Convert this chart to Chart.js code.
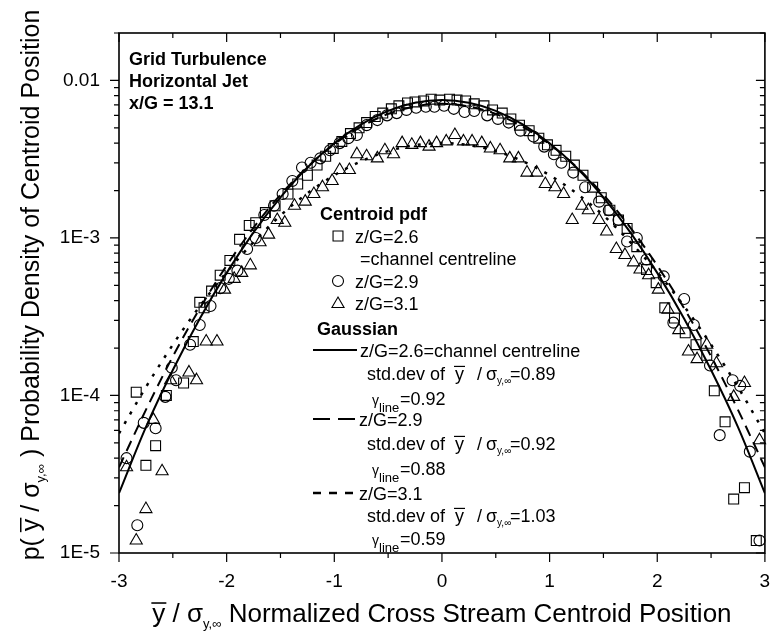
<!DOCTYPE html>
<html>
<head>
<meta charset="utf-8">
<script src="https://cdn.jsdelivr.net/npm/chart.js@4.4.1/dist/chart.umd.min.js"></script>
<style>
  html, body { margin: 0; padding: 0; background: #fff; }
  #wrap { width: 773px; height: 641px; }
</style>
</head>
<body>
<div id="wrap"><canvas id="chart" width="773" height="641"></canvas></div>
<script>
const FONT = '"Liberation Sans", Arial, Helvetica, sans-serif';

// measured centroid pdf, z/G = 2.6 (channel centreline)
const squareX = [-2.84, -2.75, -2.66, -2.56, -2.40, -2.31, -2.25, -2.21, -2.14, -2.06, -1.97, -1.88, -1.79, -1.73, -1.64, -1.55, -1.43, -1.34, -1.25, -1.16, -1.08, -1.01, -0.93, -0.85, -0.77, -0.70, -0.62, -0.55, -0.47, -0.40, -0.32, -0.25, -0.17, -0.10, -0.02, 0.07, 0.14, 0.22, 0.30, 0.39, 0.47, 0.56, 0.64, 0.72, 0.81, 0.90, 0.98, 1.06, 1.15, 1.23, 1.31, 1.40, 1.48, 1.56, 1.64, 1.72, 1.81, 1.90, 1.99, 2.07, 2.16, 2.26, 2.36, 2.46, 2.53, 2.63, 2.71, 2.81, 2.92];
const squareY = [1.05e-4, 3.6e-5, 4.8e-5, 1.0e-4, 1.2e-4, 2.2e-4, 3.9e-4, 3.6e-4, 4.6e-4, 5.8e-4, 7.2e-4, 9.8e-4, 1.2e-3, 1.25e-3, 1.45e-3, 1.6e-3, 1.9e-3, 2.2e-3, 2.5e-3, 2.9e-3, 3.3e-3, 3.7e-3, 4.1e-3, 4.6e-3, 5.0e-3, 5.4e-3, 5.9e-3, 6.2e-3, 6.6e-3, 6.9e-3, 7.2e-3, 7.3e-3, 7.4e-3, 7.6e-3, 7.5e-3, 7.6e-3, 7.5e-3, 7.4e-3, 7.1e-3, 6.9e-3, 6.5e-3, 6.2e-3, 5.7e-3, 5.2e-3, 4.8e-3, 4.3e-3, 3.9e-3, 3.6e-3, 3.3e-3, 2.9e-3, 2.5e-3, 2.1e-3, 1.8e-3, 1.5e-3, 1.3e-3, 1.15e-3, 8.8e-4, 6.3e-4, 5.2e-4, 3.6e-4, 3.1e-4, 2.5e-4, 2.1e-4, 1.8e-4, 1.07e-4, 6.8e-5, 2.2e-5, 2.6e-5, 1.2e-5];

// z/G = 2.9
const circleX = [-2.93, -2.83, -2.77, -2.66, -2.57, -2.51, -2.47, -2.34, -2.25, -2.15, -2.06, -1.98, -1.90, -1.81, -1.73, -1.65, -1.56, -1.48, -1.39, -1.30, -1.22, -1.13, -1.04, -0.95, -0.87, -0.79, -0.70, -0.60, -0.51, -0.42, -0.33, -0.24, -0.15, -0.07, 0.02, 0.11, 0.21, 0.30, 0.42, 0.52, 0.62, 0.73, 0.85, 0.95, 1.04, 1.11, 1.22, 1.33, 1.46, 1.55, 1.64, 1.72, 1.81, 1.90, 2.06, 2.15, 2.25, 2.34, 2.49, 2.58, 2.70, 2.77, 2.86, 2.95];
const circleY = [4.0e-5, 1.5e-5, 6.7e-5, 6.2e-5, 9.8e-5, 1.5e-4, 1.25e-4, 2.1e-4, 2.8e-4, 3.7e-4, 4.8e-4, 5.5e-4, 6.2e-4, 8.5e-4, 1.0e-3, 1.4e-3, 1.6e-3, 1.9e-3, 2.3e-3, 2.8e-3, 3.0e-3, 3.2e-3, 3.6e-3, 4.0e-3, 4.3e-3, 4.5e-3, 5.2e-3, 5.6e-3, 6.0e-3, 6.2e-3, 6.5e-3, 6.7e-3, 6.8e-3, 6.8e-3, 6.9e-3, 6.6e-3, 6.3e-3, 6.4e-3, 6.0e-3, 5.7e-3, 5.4e-3, 4.8e-3, 4.4e-3, 3.8e-3, 3.4e-3, 3.0e-3, 2.6e-3, 2.1e-3, 1.7e-3, 1.5e-3, 1.3e-3, 9.5e-4, 1.0e-3, 7.3e-4, 5.7e-4, 2.9e-4, 4.1e-4, 2.8e-4, 1.55e-4, 5.6e-5, 1.25e-4, 1.15e-4, 4.4e-5, 1.2e-5];

// z/G = 3.1
const triangleX = [-2.93, -2.84, -2.75, -2.68, -2.60, -2.52, -2.35, -2.28, -2.19, -2.09, -2.02, -1.93, -1.86, -1.78, -1.69, -1.61, -1.53, -1.46, -1.37, -1.27, -1.19, -1.11, -1.02, -0.95, -0.86, -0.79, -0.70, -0.60, -0.53, -0.45, -0.37, -0.28, -0.20, -0.12, -0.05, 0.04, 0.12, 0.20, 0.28, 0.37, 0.45, 0.54, 0.63, 0.71, 0.79, 0.88, 0.96, 1.05, 1.13, 1.21, 1.30, 1.36, 1.46, 1.53, 1.62, 1.70, 1.78, 1.84, 1.92, 2.01, 2.10, 2.20, 2.29, 2.37, 2.46, 2.55, 2.71, 2.81, 2.95];
const triangleY = [3.5e-5, 1.2e-5, 1.9e-5, 7.0e-5, 3.3e-5, 1.25e-4, 1.4e-4, 1.25e-4, 2.2e-4, 2.2e-4, 4.7e-4, 5.5e-4, 6.0e-4, 6.7e-4, 9.4e-4, 1.05e-3, 1.3e-3, 1.25e-3, 1.6e-3, 1.7e-3, 1.9e-3, 2.1e-3, 2.3e-3, 2.7e-3, 2.7e-3, 3.4e-3, 3.3e-3, 3.2e-3, 3.6e-3, 3.4e-3, 4.0e-3, 3.9e-3, 4.0e-3, 3.8e-3, 4.0e-3, 4.1e-3, 4.5e-3, 4.1e-3, 4.1e-3, 4.0e-3, 3.7e-3, 3.6e-3, 3.2e-3, 3.2e-3, 2.6e-3, 2.6e-3, 2.2e-3, 2.1e-3, 1.9e-3, 1.3e-3, 1.6e-3, 1.5e-3, 1.3e-3, 1.1e-3, 8.5e-4, 7.8e-4, 7.0e-4, 6.3e-4, 5.8e-4, 4.7e-4, 3.5e-4, 2.6e-4, 1.9e-4, 1.7e-4, 2.1e-4, 1.6e-4, 9.8e-5, 1.2e-4, 5.2e-5];

// fitted gaussians, sampled every 0.25
const curveX = [-3, -2.75, -2.5, -2.25, -2, -1.75, -1.5, -1.25, -1, -0.75, -0.5, -0.25, 0, 0.25, 0.5, 0.75, 1, 1.25, 1.5, 1.75, 2, 2.25, 2.5, 2.75, 3];
const gaussSolidY = [2.4e-5, 6.3e-5, 1.45e-4, 3.07e-4, 6.0e-4, 1.085e-3, 1.81e-3, 2.80e-3, 3.99e-3, 5.26e-3, 6.41e-3, 7.21e-3, 7.5e-3, 7.21e-3, 6.41e-3, 5.26e-3, 3.99e-3, 2.80e-3, 1.81e-3, 1.085e-3, 6.0e-4, 3.07e-4, 1.45e-4, 6.3e-5, 2.4e-5];
const gaussDashY = [3.5e-5, 8.1e-5, 1.77e-4, 3.57e-4, 6.68e-4, 1.163e-3, 1.88e-3, 2.82e-3, 3.93e-3, 5.09e-3, 6.13e-3, 6.84e-3, 7.1e-3, 6.84e-3, 6.13e-3, 5.09e-3, 3.93e-3, 2.82e-3, 1.88e-3, 1.163e-3, 6.68e-4, 3.57e-4, 1.77e-4, 8.1e-5, 3.5e-5];
const gaussDotY = [5.75e-5, 1.13e-4, 2.10e-4, 3.68e-4, 6.07e-4, 9.4e-4, 1.39e-3, 1.92e-3, 2.50e-3, 3.07e-3, 3.56e-3, 3.88e-3, 4.0e-3, 3.88e-3, 3.56e-3, 3.07e-3, 2.50e-3, 1.92e-3, 1.39e-3, 9.4e-4, 6.07e-4, 3.68e-4, 2.10e-4, 1.13e-4, 5.75e-5];

// axis ticks
const xTicks = [-3, -2, -1, 0, 1, 2, 3];
const yTicks = [1e-5, 1e-4, 1e-3, 1e-2];
const yTickLabels = ['1E-5', '1E-4', '1E-3', '0.01'];

const toPoints = (xs, ys) => xs.map((x, i) => ({ x, y: ys[i] }));

const markerStyle = (style, radius) => ({
  type: 'scatter',
  showLine: false,
  pointStyle: style,
  pointRadius: radius,
  pointHoverRadius: radius,
  pointBorderWidth: 1.1,
  pointBorderColor: '#000',
  pointBackgroundColor: 'rgba(0,0,0,0)',
  clip: false
});

const curveStyle = (dash, width) => ({
  type: 'line',
  borderColor: '#000',
  borderWidth: width,
  borderDash: dash,
  pointRadius: 0,
  fill: false,
  cubicInterpolationMode: 'monotone'
});

const datasets = [
  { label: 'z/G=2.6', data: toPoints(squareX, squareY), ...markerStyle('rect', 7) },
  { label: 'z/G=2.9', data: toPoints(circleX, circleY), ...markerStyle('circle', 5.5) },
  { label: 'z/G=3.1', data: toPoints(triangleX, triangleY), ...markerStyle('triangle', 7) },
  { label: 'Gaussian 2.6', data: toPoints(curveX, gaussSolidY), ...curveStyle([], 2) },
  { label: 'Gaussian 2.9', data: toPoints(curveX, gaussDashY), ...curveStyle([11, 7], 2) },
  { label: 'Gaussian 3.1', data: toPoints(curveX, gaussDotY), ...curveStyle([3, 8], 2.5) }
];

// draws a run of text pieces (sub/superscripts, overlined letters) from x on a baseline
function drawRich(ctx, x, base, parts, measureOnly) {
  let cx = x;
  parts.forEach(p => {
    if (p.at !== undefined) cx = p.at;
    ctx.font = (p.bold ? 'bold ' : '') + p.size + 'px ' + FONT;
    const w = ctx.measureText(p.t).width;
    if (!measureOnly) {
      const y = base + (p.dy || 0);
      ctx.fillText(p.t, cx, y);
      if (p.bar) {
        ctx.fillRect(cx - 1, y - p.size * 0.76, w + 2, Math.max(1.2, p.size * 0.06));
      }
    }
    cx += w;
  });
  return cx - x;
}

function text(ctx, str, x, base, size, bold) {
  ctx.font = (bold ? 'bold ' : '') + size + 'px ' + FONT;
  ctx.fillText(str, x, base);
}

function marker(ctx, ds, x, y) {
  ctx.save();
  ctx.strokeStyle = '#000';
  ctx.fillStyle = 'rgba(0,0,0,0)';
  ctx.lineWidth = ds.pointBorderWidth;
  Chart.helpers.drawPoint(ctx, { pointStyle: ds.pointStyle, radius: ds.pointRadius, borderWidth: ds.pointBorderWidth, rotation: 0 }, x, y);
  ctx.restore();
}

function sample(ctx, dash, width, y) {
  ctx.save();
  ctx.strokeStyle = '#000';
  ctx.lineWidth = width;
  ctx.setLineDash(dash);
  ctx.beginPath();
  ctx.moveTo(313, y);
  ctx.lineTo(357, y);
  ctx.stroke();
  ctx.restore();
}

function stdRow(ctx, base, value) {
  drawRich(ctx, 367, base, [
    { t: 'std.dev of', size: 18 },
    { t: 'y', size: 18, bar: true, at: 455 },
    { t: '/', size: 18, at: 477 },
    { t: 'σ', size: 18, at: 486 },
    { t: 'y,∞', size: 10, dy: 4 },
    { t: '=' + value, size: 18, at: 510 }
  ]);
}

function gammaRow(ctx, base, value) {
  drawRich(ctx, 372, base, [
    { t: 'γ', size: 14 },
    { t: 'line', size: 13, dy: 7, at: 379 },
    { t: '=' + value, size: 18, at: 400 }
  ]);
}

const frameAndText = {
  id: 'frameAndText',
  afterDraw(chart) {
    const { ctx, chartArea: a, scales } = chart;
    const xs = scales.x, ys = scales.y;
    ctx.save();
    ctx.strokeStyle = '#000';
    ctx.fillStyle = '#000';

    // frame
    ctx.lineWidth = 1.6;
    ctx.strokeRect(a.left, a.top, a.right - a.left, a.bottom - a.top);

    // tick marks: out on bottom/left, in on top/right
    ctx.lineWidth = 1.2;
    ctx.beginPath();
    for (let v = -3; v <= 3.001; v += 0.5) {
      const px = xs.getPixelForValue(v);
      const len = Math.abs(v - Math.round(v)) < 1e-6 ? 9 : 5;
      ctx.moveTo(px, a.bottom); ctx.lineTo(px, a.bottom + len);
      ctx.moveTo(px, a.top); ctx.lineTo(px, a.top + len);
    }
    yTicks.forEach(dec => {
      for (let k = 1; k <= 9; k++) {
        const v = k * dec;
        if (v > 0.02 + 1e-9) break;
        const py = ys.getPixelForValue(v);
        const len = k === 1 ? 9 : 5;
        ctx.moveTo(a.left, py); ctx.lineTo(a.left - len, py);
        ctx.moveTo(a.right, py); ctx.lineTo(a.right - len, py);
      }
    });
    ctx.stroke();

    ctx.textAlign = 'left';
    ctx.textBaseline = 'alphabetic';

    // run description
    text(ctx, 'Grid Turbulence', 129, 64.5, 18, true);
    text(ctx, 'Horizontal Jet', 129, 86.5, 18, true);
    text(ctx, 'x/G = 13.1', 129, 108.5, 18, true);

    // legend: measured pdfs
    const [sq, ci, tr] = chart.data.datasets;
    text(ctx, 'Centroid pdf', 320, 219.5, 18, true);
    marker(ctx, sq, 338, 236);
    text(ctx, 'z/G=2.6', 355, 242.5, 18);
    text(ctx, '=channel centreline', 360, 264.5, 18);
    marker(ctx, ci, 338, 281);
    text(ctx, 'z/G=2.9', 355, 287.5, 18);
    marker(ctx, tr, 338, 304);
    text(ctx, 'z/G=3.1', 355, 309.5, 18);

    // legend: gaussian fits
    text(ctx, 'Gaussian', 317, 334.5, 18, true);
    sample(ctx, [], 2, 350);
    text(ctx, 'z/G=2.6=channel centreline', 360, 356.5, 18);
    stdRow(ctx, 379.5, '0.89');
    gammaRow(ctx, 404.5, '0.92');
    sample(ctx, [17, 8], 2, 419);
    text(ctx, 'z/G=2.9', 359, 425.5, 18);
    stdRow(ctx, 449.5, '0.92');
    gammaRow(ctx, 474.5, '0.88');
    sample(ctx, [8, 8], 2.5, 493);
    text(ctx, 'z/G=3.1', 359, 499.5, 18);
    stdRow(ctx, 521.5, '1.03');
    gammaRow(ctx, 544.5, '0.59');

    // x axis title
    const xTitle = [
      { t: 'y', size: 26, bar: true },
      { t: ' / σ', size: 26 },
      { t: 'y,∞', size: 13, dy: 6 },
      { t: ' Normalized Cross Stream Centroid Position', size: 26 }
    ];
    const xw = drawRich(ctx, 0, 0, xTitle, true);
    const xc = (a.left + a.right) / 2;
    drawRich(ctx, xc - xw / 2, 622, xTitle);

    // y axis title
    const yTitle = [
      { t: 'p( ', size: 25 },
      { t: 'y', size: 25, bar: true },
      { t: ' / σ', size: 25 },
      { t: 'y,∞', size: 13, dy: 6 },
      { t: ' ) Probability Density of Centroid Position', size: 25 }
    ];
    const yw = drawRich(ctx, 0, 0, yTitle, true);
    ctx.translate(39, 285);
    ctx.rotate(-Math.PI / 2);
    drawRich(ctx, -yw / 2, 0, yTitle);
    ctx.restore();
  }
};

new Chart(document.getElementById('chart'), {
  type: 'scatter',
  data: { datasets },
  options: {
    responsive: false,
    animation: false,
    devicePixelRatio: 1,
    layout: { padding: { top: 33, right: 5, left: 0, bottom: 0 } },
    plugins: { legend: { display: false }, tooltip: { enabled: false } },
    scales: {
      x: {
        type: 'linear',
        min: -3,
        max: 3,
        afterBuildTicks: s => { s.ticks = xTicks.map(v => ({ value: v })); },
        afterFit: s => { s.height = 88; s.paddingLeft = 0; s.paddingRight = 0; },
        grid: { display: false, drawTicks: false },
        border: { display: false },
        ticks: {
          color: '#000',
          padding: 17,
          maxRotation: 0,
          autoSkip: false,
          font: { family: FONT, size: 19 },
          callback: v => String(v)
        }
      },
      y: {
        type: 'logarithmic',
        min: 1e-5,
        max: 0.02,
        afterBuildTicks: s => { s.ticks = yTicks.map(v => ({ value: v })); },
        afterFit: s => { s.width = 119; s.paddingTop = 0; s.paddingBottom = 0; },
        grid: { display: false, drawTicks: false },
        border: { display: false },
        ticks: {
          color: '#000',
          padding: 19,
          autoSkip: false,
          font: { family: FONT, size: 19 },
          callback: (v, i) => yTickLabels[i]
        }
      }
    }
  },
  plugins: [frameAndText]
});
</script>
</body>
</html>
